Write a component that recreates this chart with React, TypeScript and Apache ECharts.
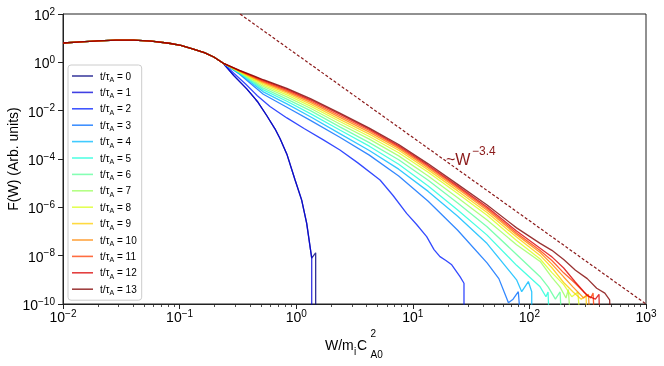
import React, { useEffect, useRef } from "react";
import * as echarts from "echarts";

const FONT = '"Liberation Sans", Arial, Helvetica, sans-serif';

// Each pair is [log10(W), log10(F)].
// Part shared by every curve (they coincide below W ~ 0.23)
const COMMON_LOG: [number, number][] = [
  [-2.0, 0.8], [-1.849, 0.85], [-1.697, 0.89], [-1.545, 0.92], [-1.394, 0.92],
  [-1.242, 0.88], [-1.091, 0.79], [-0.99, 0.7], [-0.889, 0.56], [-0.788, 0.4],
  [-0.707, 0.22], [-0.628, -0.03],
];

const T0_LOG: [number, number][] = [
  [-0.535, -0.55], [-0.424, -1.1], [-0.333, -1.62], [-0.253, -2.2], [-0.182, -2.75],
  [-0.139, -3.15], [-0.08, -3.8], [-0.011, -4.85], [0.047, -5.7], [0.09, -6.66],
  [0.133, -8.1], [0.167, -7.88], [0.167, -12],
];
const T1_LOG: [number, number][] = [
  [-0.535, -0.55], [-0.424, -1.1], [-0.333, -1.62], [-0.253, -2.2], [-0.182, -2.75],
  [-0.139, -3.15], [-0.08, -3.8], [-0.011, -4.85], [0.047, -5.7], [0.09, -6.66],
  [0.133, -8.1], [0.133, -12],
];
const T2_LOG: [number, number][] = [
  [-0.535, -0.45], [-0.434, -0.9], [-0.333, -1.38], [-0.225, -1.83], [-0.08, -2.3],
  [0.071, -2.75], [0.233, -3.21], [0.375, -3.63], [0.526, -4.15], [0.719, -4.87],
  [0.829, -5.5], [0.947, -6.25], [1.031, -6.7], [1.119, -7.21], [1.182, -7.75],
  [1.233, -8.04], [1.284, -8.2], [1.334, -8.38], [1.405, -8.87], [1.439, -9.14],
  [1.439, -12],
];
const T3_LOG: [number, number][] = [
  [-0.485, -0.49], [-0.282, -1.32], [-0.08, -1.86], [0.122, -2.4], [0.374, -3.1],
  [0.627, -3.84], [0.879, -4.7], [1.132, -5.75], [1.385, -6.95], [1.637, -8.3],
  [1.738, -8.95], [1.805, -9.76], [1.82, -9.95], [1.86, -9.8], [1.905, -9.49],
  [1.945, -12],
];
const T4_LOG: [number, number][] = [
  [-0.485, -0.47], [-0.282, -1.22], [-0.08, -1.72], [0.122, -2.25], [0.374, -2.95],
  [0.627, -3.65], [0.879, -4.42], [1.132, -5.34], [1.385, -6.37], [1.637, -7.5],
  [1.89, -9.0], [1.934, -9.49], [1.991, -9.07], [2.02, -9.49], [2.02, -12],
];
const T5_LOG: [number, number][] = [
  [-0.485, -0.45], [-0.282, -1.14], [-0.08, -1.61], [0.122, -2.12], [0.374, -2.8],
  [0.627, -3.47], [0.879, -4.22], [1.132, -5.12], [1.385, -6.11], [1.637, -7.15],
  [1.89, -8.4], [2.092, -9.29], [2.142, -9.7], [2.16, -9.5], [2.18, -12],
];
const T6_LOG: [number, number][] = [
  [-0.485, -0.43], [-0.282, -1.07], [-0.08, -1.52], [0.122, -2.0], [0.374, -2.67],
  [0.627, -3.32], [0.879, -4.03], [1.132, -4.88], [1.385, -5.82], [1.637, -6.8],
  [1.89, -7.95], [2.092, -8.87], [2.162, -9.3], [2.223, -9.8], [2.263, -9.5],
  [2.29, -12],
];
const T7_LOG: [number, number][] = [
  [-0.485, -0.41], [-0.282, -1.0], [-0.08, -1.43], [0.122, -1.9], [0.374, -2.55],
  [0.627, -3.18], [0.879, -3.87], [1.132, -4.7], [1.385, -5.6], [1.637, -6.52],
  [1.89, -7.55], [2.092, -8.24], [2.193, -8.9], [2.263, -9.3], [2.314, -9.75],
  [2.334, -9.4], [2.37, -12],
];
const T8_LOG: [number, number][] = [
  [-0.485, -0.395], [-0.282, -0.94], [-0.08, -1.35], [0.122, -1.81], [0.374, -2.45],
  [0.627, -3.07], [0.879, -3.74], [1.132, -4.55], [1.385, -5.43], [1.637, -6.33],
  [1.89, -7.37], [2.092, -8.14], [2.193, -8.7], [2.294, -9.2], [2.364, -9.7],
  [2.415, -9.5], [2.46, -12],
];
const T9_LOG: [number, number][] = [
  [-0.485, -0.38], [-0.282, -0.88], [-0.08, -1.28], [0.122, -1.73], [0.374, -2.36],
  [0.627, -2.97], [0.879, -3.64], [1.132, -4.45], [1.385, -5.32], [1.637, -6.21],
  [1.89, -7.23], [2.092, -7.99], [2.193, -8.5], [2.294, -9.11], [2.375, -9.5],
  [2.445, -9.8], [2.486, -9.65], [2.503, -12],
];
const T10_LOG: [number, number][] = [
  [-0.485, -0.365], [-0.282, -0.83], [-0.08, -1.22], [0.122, -1.66], [0.374, -2.28],
  [0.627, -2.89], [0.879, -3.56], [1.132, -4.37], [1.385, -5.23], [1.637, -6.12],
  [1.89, -7.13], [2.092, -7.87], [2.193, -8.35], [2.294, -8.88], [2.375, -9.3],
  [2.465, -9.75], [2.506, -9.6], [2.537, -12],
];
const T11_LOG: [number, number][] = [
  [-0.485, -0.35], [-0.282, -0.79], [-0.08, -1.17], [0.122, -1.6], [0.374, -2.21],
  [0.627, -2.82], [0.879, -3.5], [1.132, -4.31], [1.385, -5.17], [1.637, -6.05],
  [1.89, -7.06], [2.092, -7.79], [2.193, -8.2], [2.294, -8.71], [2.395, -9.15],
  [2.465, -9.5], [2.526, -9.75], [2.546, -9.55], [2.572, -12],
];
const T12_LOG: [number, number][] = [
  [-0.485, -0.34], [-0.282, -0.75], [-0.08, -1.12], [0.122, -1.55], [0.374, -2.15],
  [0.627, -2.77], [0.879, -3.45], [1.132, -4.26], [1.385, -5.12], [1.637, -5.99],
  [1.89, -6.98], [2.092, -7.69], [2.193, -8.05], [2.294, -8.51], [2.395, -9.1],
  [2.496, -9.65], [2.566, -9.8], [2.597, -9.6], [2.607, -12],
];
const T13_LOG: [number, number][] = [
  [-0.485, -0.33], [-0.282, -0.72], [-0.08, -1.08], [0.122, -1.5], [0.374, -2.1],
  [0.627, -2.72], [0.879, -3.4], [1.132, -4.2], [1.385, -5.05], [1.637, -5.9],
  [1.89, -6.85], [2.092, -7.49], [2.193, -7.78], [2.294, -8.16], [2.395, -8.6],
  [2.496, -8.95], [2.577, -9.35], [2.647, -9.55], [2.688, -9.83], [2.708, -12],
];

const TIMES = [0, 1, 2, 3, 4, 5, 6, 7, 8, 9, 10, 11, 12, 13];
const CURVES_LOG = [
  T0_LOG, T1_LOG, T2_LOG, T3_LOG, T4_LOG, T5_LOG, T6_LOG,
  T7_LOG, T8_LOG, T9_LOG, T10_LOG, T11_LOG, T12_LOG, T13_LOG,
];
// jet colormap sampled at t/13
const CURVE_COLORS = [
  "#000080", "#0000d9", "#001dff", "#006cff", "#00baff", "#1cffda", "#5cff9b",
  "#9bff5c", "#daff1c", "#ffce00", "#ff8500", "#ff3c00", "#d90000", "#800000",
];

// ~W^-3.4 guide line end points [W, F]
const GUIDE: [number, number][] = [[0.33, 100], [1000, 1e-10]];

const Y_TICKS = [1e-10, 1e-8, 1e-6, 1e-4, 1e-2, 1, 100];
const X_MINOR_TICKS = [
  0.02, 0.03, 0.04, 0.05, 0.06, 0.07, 0.08, 0.09,
  0.2, 0.3, 0.4, 0.5, 0.6, 0.7, 0.8, 0.9,
  2, 3, 4, 5, 6, 7, 8, 9,
  20, 30, 40, 50, 60, 70, 80, 90,
  200, 300, 400, 500, 600, 700, 800, 900,
];

const AXIS_COLOR = "#222";

const powRich = {
  b: { fontSize: 14, fontFamily: FONT, color: "#000", lineHeight: 16, verticalAlign: "bottom" },
  s: { fontSize: 10, fontFamily: FONT, color: "#000", lineHeight: 10, padding: [0, 0, 10, 0], verticalAlign: "top" },
};
const powFmt = (v: number) => {
  const e = Math.round(Math.log10(v));
  return `{b|10}{s|${e < 0 ? "\u2212" + -e : e}}`;
};

const seriesName = (t: number) => `t/τA = ${t}`;

function buildOption() {
  const series: any[] = TIMES.map((t, i) => ({
    type: "line",
    name: seriesName(t),
    data: [...COMMON_LOG, ...CURVES_LOG[i]].map(([lw, lf]) => [Math.pow(10, lw), Math.pow(10, lf)]),
    symbol: "none",
    clip: true,
    lineStyle: { color: CURVE_COLORS[i], width: 1.3, opacity: 0.8 },
    itemStyle: { color: CURVE_COLORS[i], opacity: 0.75 },
    emphasis: { disabled: true },
    z: 2,
  }));
  series.push({
    type: "line",
    name: "guide",
    data: GUIDE,
    symbol: "none",
    clip: true,
    lineStyle: { color: "#8b1a1a", width: 1.2, type: [3, 2] },
    emphasis: { disabled: true },
    z: 1,
  });

  const text = (t: string, x: number, y: number, size: number, fill = "#000") => ({
    type: "text",
    x,
    y,
    silent: true,
    style: { text: t, fontSize: size, fontFamily: FONT, fill, align: "left", verticalAlign: "middle" },
  });

  return {
    animation: false,
    grid: {
      left: 63, right: 18, top: 14, bottom: 62,
      containLabel: false,
      outerBoundsMode: "none",
      show: true, borderColor: AXIS_COLOR, borderWidth: 1, backgroundColor: "transparent",
    },
    legend: {
      data: TIMES.map((t) => ({ name: seriesName(t), icon: "rect" })),
      orient: "vertical",
      left: 68,
      top: 65,
      itemWidth: 21,
      itemHeight: 1.6,
      itemGap: 2.4,
      padding: [4, 5, 4, 4],
      backgroundColor: "rgba(255,255,255,0.8)",
      borderColor: "#cccccc",
      borderWidth: 1,
      borderRadius: 3,
      selectedMode: false,
      formatter: (name: string) => `t/τ{s|A} = ${name.split("= ")[1]}`,
      textStyle: {
        fontFamily: FONT,
        fontSize: 10,
        color: "#000",
        lineHeight: 14,
        padding: [0, 0, 0, 2],
        rich: {
          s: { fontSize: 7, fontFamily: FONT, color: "#000", lineHeight: 7, padding: [7, 0, 0, 0], verticalAlign: "top" },
        },
      },
    },
    xAxis: [
      {
        type: "log",
        logBase: 10,
        min: 0.01,
        max: 1000,
        position: "bottom",
        axisLine: { show: true, onZero: false, lineStyle: { color: AXIS_COLOR, width: 1 } },
        axisTick: { show: true, length: 5, lineStyle: { color: AXIS_COLOR, width: 1 } },
        axisLabel: { formatter: powFmt, margin: 4, rich: powRich },
        splitLine: { show: false },
        minorTick: { show: false },
      },
      {
        type: "log",
        logBase: 10,
        min: 0.01,
        max: 1000,
        position: "bottom",
        axisLine: { show: false },
        axisTick: { show: true, length: 3, customValues: X_MINOR_TICKS, lineStyle: { color: AXIS_COLOR, width: 0.8 } },
        axisLabel: { show: false },
        splitLine: { show: false },
      },
    ],
    yAxis: {
      type: "log",
      logBase: 10,
      min: 1e-10,
      max: 100,
      axisLine: { show: true, onZero: false, lineStyle: { color: AXIS_COLOR, width: 1 } },
      axisTick: { show: true, length: 5, customValues: Y_TICKS, lineStyle: { color: AXIS_COLOR, width: 1 } },
      axisLabel: { customValues: Y_TICKS, formatter: powFmt, margin: 8, rich: powRich },
      splitLine: { show: false },
    },
    graphic: [
      {
        type: "text",
        x: 13,
        y: 159,
        rotation: Math.PI / 2,
        silent: true,
        style: {
          text: "F(W) (Arb. units)", fontSize: 14, fontFamily: FONT, fill: "#000",
          align: "center", verticalAlign: "middle",
        },
      },
      text("W/m", 325, 345, 14),
      text("i", 354, 351.5, 10),
      text("C", 357, 345, 14),
      text("2", 370.5, 333.5, 10),
      text("A0", 370.5, 354.5, 10),
      text("~W", 446, 159.5, 16, "#8b1a1a"),
      text("\u22123.4", 472, 150.5, 12, "#8b1a1a"),
    ],
    series,
  };
}

export default function App() {
  const ref = useRef<HTMLDivElement>(null);
  useEffect(() => {
    if (!ref.current) return;
    const chart = echarts.init(ref.current, undefined, { renderer: "svg" });
    chart.setOption(buildOption() as any);
    return () => chart.dispose();
  }, []);
  return (
    <div
      ref={ref}
      style={{ position: "fixed", left: 0, top: 0, width: 664, height: 366 }}
    />
  );
}
